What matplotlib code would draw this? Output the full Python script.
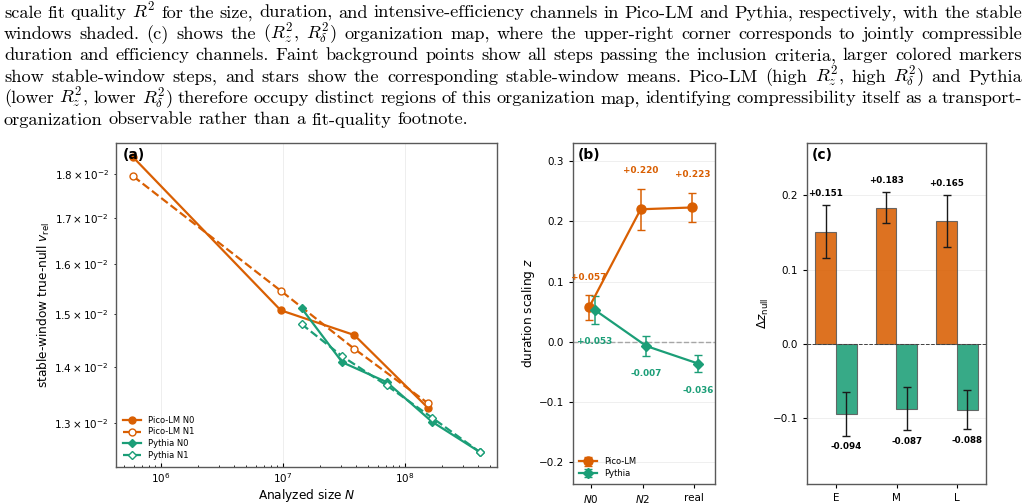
import numpy as np
import matplotlib
matplotlib.use('Agg')
import matplotlib.pyplot as plt

# ---------------- data ----------------
size_pico = [5.93e5, 9.57e6, 3.84e7, 1.535e8]
vrel_pico_n0 = [1.840e-2, 1.507e-2, 1.459e-2, 1.327e-2]
vrel_pico_n1 = [1.795e-2, 1.546e-2, 1.433e-2, 1.335e-2]
size_pythia = [1.42e7, 3.06e7, 7.08e7, 1.66e8, 4.12e8]
vrel_pythia_n0 = [1.511e-2, 1.408e-2, 1.372e-2, 1.303e-2, 1.252e-2]
vrel_pythia_n1 = [1.480e-2, 1.419e-2, 1.366e-2, 1.310e-2, 1.252e-2]

null_cats = ['$N0$', '$N2$', 'real']
z_pico = [0.057, 0.220, 0.223]
z_pico_err = [0.020, 0.034, 0.024]
z_pythia = [0.053, -0.007, -0.036]
z_pythia_err = [0.023, 0.016, 0.014]

regimes = ['E', 'M', 'L']
dz_pico = [0.151, 0.183, 0.165]
dz_pico_err = [0.036, 0.021, 0.035]
dz_pythia = [-0.094, -0.087, -0.088]
dz_pythia_err = [0.029, 0.029, 0.026]

caption_lines = [
    r"scale fit quality $R^2$ for the size, duration, and intensive-efficiency channels in Pico-LM and Pythia, respectively, with the stable",
    r"windows shaded. (c) shows the ($R^2_z$, $R^2_\delta$) organization map, where the upper-right corner corresponds to jointly compressible",
    r"duration and efficiency channels. Faint background points show all steps passing the inclusion criteria, larger colored markers",
    r"show stable-window steps, and stars show the corresponding stable-window means. Pico-LM (high $R^2_z$, high $R^2_\delta$) and Pythia",
    r"(lower $R^2_z$, lower $R^2_\delta$) therefore occupy distinct regions of this organization map, identifying compressibility itself as a transport-",
    r"organization observable rather than a fit-quality footnote.",
]

# ---------------- style ----------------
ORANGE = '#d95f02'
GREEN = '#1b9e77'
plt.rcParams['font.family'] = ['DejaVu Sans']
plt.rcParams['mathtext.fontset'] = 'dejavusans'
plt.rcParams['axes.edgecolor'] = '0.35'
plt.rcParams['axes.linewidth'] = 1.0
plt.rcParams['xtick.labelsize'] = 7.5
plt.rcParams['ytick.labelsize'] = 7.5
plt.rcParams['xtick.major.size'] = 3
plt.rcParams['ytick.major.size'] = 3
plt.rcParams['xtick.minor.size'] = 1.8
plt.rcParams['ytick.minor.size'] = 1.8

W, H = 1029, 504
fig = plt.figure(figsize=(W / 100, H / 100), dpi=100)
renderer = fig.canvas.get_renderer()

def ax_rect(l, t, r, b):
    return [l / W, (H - b) / H, (r - l) / W, (b - t) / H]

# ---------------- caption (justified) ----------------
cap_kw = dict(family='cmr10', math_fontfamily='cm')

def measure(s, fs):
    t = fig.text(0, 0, s, fontsize=fs, **cap_kw)
    w = t.get_window_extent(renderer).width
    t.remove()
    return w

PX_PER_PT = 100 / 72
x_left, x_right = 4.0, 1022.0
target = x_right - x_left
fs0 = 12.0
word_lists = [ln.split(' ') for ln in caption_lines]
# fit font size: densest full line fits the text width with tight (0.28 em) spaces
cands = []
for words in word_lists[:-1]:
    k = sum(measure(w_, fs0) for w_ in words) / fs0
    cands.append(target / (k + (len(words) - 1) * 0.28 * PX_PER_PT))
fs = min(cands)

base0, dy = 17.5, 21.4
for i, words in enumerate(word_lists):
    widths = [measure(w_, fs) for w_ in words]
    if i < len(word_lists) - 1:
        gap = (target - sum(widths)) / (len(words) - 1)
    else:
        gap = 0.333 * fs * PX_PER_PT
    x = x_left
    yb = base0 + i * dy
    for w_, wd in zip(words, widths):
        fig.text(x / W, (H - yb) / H, w_, fontsize=fs, va='baseline', ha='left', **cap_kw)
        x += wd + gap

# ---------------- panel (a) ----------------
axa = fig.add_axes(ax_rect(116, 143, 497, 467))
axa.plot(size_pico, vrel_pico_n0, '-o', color=ORANGE, lw=1.6, ms=5, label='Pico-LM N0')
axa.plot(size_pico, vrel_pico_n1, '--o', color=ORANGE, lw=1.6, ms=5, mfc='white', mew=1.0, label='Pico-LM N1')
axa.plot(size_pythia, vrel_pythia_n0, '-D', color=GREEN, lw=1.6, ms=4.5, label='Pythia N0')
axa.plot(size_pythia, vrel_pythia_n1, '--D', color=GREEN, lw=1.6, ms=4.5, mfc='white', mew=1.0, label='Pythia N1')
axa.set_xscale('log')
axa.set_yscale('log')
axa.set_xlim(10 ** 5.631, 10 ** 8.754)
axa.set_ylim(1.228e-2, 1.875e-2)
axa.tick_params(axis='x', which='both', direction='in', pad=3)
axa.grid(True, which='major', color='0.92', lw=0.6)
axa.set_axisbelow(True)
axa.set_xlabel('Analyzed size $N$', fontsize=8.7, labelpad=1.5)
axa.set_ylabel(r'stable-window true-null $v_{\rm rel}$', fontsize=8.7, labelpad=2)
axa.legend(loc='lower left', fontsize=6, frameon=False, handlelength=2.2,
           borderaxespad=0.4, labelspacing=0.35)
axa.text(0.018, 0.985, '(a)', transform=axa.transAxes, fontsize=10, fontweight='bold',
         va='top', ha='left')

# ---------------- panel (b) ----------------
axb = fig.add_axes(ax_rect(573, 143, 715, 484))
xb = np.arange(len(null_cats))
off_p, off_y = -0.04, 0.07
axb.axhline(0, color='0.65', ls='--', lw=1.0, zorder=1)
axb.errorbar(xb + off_p, z_pico, yerr=z_pico_err, fmt='-o', color=ORANGE, lw=1.6, ms=6.5,
             capsize=3, elinewidth=1.1, ecolor=ORANGE, label='Pico-LM', zorder=3)
axb.errorbar(xb + off_y, z_pythia, yerr=z_pythia_err, fmt='-D', color=GREEN, lw=1.6, ms=5.5,
             capsize=3, elinewidth=1.1, ecolor=GREEN, label='Pythia', zorder=3)
for xi, v, e in zip(xb + off_p, z_pico, z_pico_err):
    axb.text(xi, v + e + 0.03, f'{v:+.3f}', color=ORANGE, fontsize=6.4, fontweight='bold',
             ha='center', va='center')
for xi, v, e in zip(xb + off_y, z_pythia, z_pythia_err):
    axb.text(xi, v - e - 0.03, f'{v:+.3f}', color=GREEN, fontsize=6.4, fontweight='bold',
             ha='center', va='center')
axb.set_xticks(xb)
axb.set_xticklabels(null_cats)
axb.set_xlim(-0.35, 2.4)
axb.set_ylim(-0.236, 0.33)
axb.set_yticks([-0.2, -0.1, 0.0, 0.1, 0.2, 0.3])
axb.grid(True, axis='y', color='0.93', lw=0.6)
axb.set_axisbelow(True)
axb.set_ylabel('duration scaling $z$', fontsize=8.7, labelpad=1)
axb.legend(loc='lower left', fontsize=6, frameon=False, handlelength=2.2,
           borderaxespad=0.3, labelspacing=0.35)
axb.text(0.03, 0.985, '(b)', transform=axb.transAxes, fontsize=10, fontweight='bold',
         va='top', ha='left')

# ---------------- panel (c) ----------------
axc = fig.add_axes(ax_rect(807, 143, 986, 484))
xc = np.arange(len(regimes))
bw = 0.345
axc.bar(xc - bw / 2, dz_pico, bw, color=ORANGE, alpha=0.88, edgecolor='0.35', lw=0.8, zorder=2)
axc.bar(xc + bw / 2, dz_pythia, bw, color=GREEN, alpha=0.88, edgecolor='0.35', lw=0.8, zorder=2)
axc.errorbar(xc - bw / 2, dz_pico, yerr=dz_pico_err, fmt='none', ecolor='0.1', elinewidth=1.0,
             capsize=3, zorder=3)
axc.errorbar(xc + bw / 2, dz_pythia, yerr=dz_pythia_err, fmt='none', ecolor='0.1', elinewidth=1.0,
             capsize=3, zorder=3)
axc.axhline(0, color='0.25', ls='--', lw=0.7, zorder=4)
for xi, v, e in zip(xc - bw / 2, dz_pico, dz_pico_err):
    axc.text(xi, v + e + 0.015, f'{v:+.3f}', color='black', fontsize=6.3, fontweight='bold',
             ha='center', va='center')
for xi, v, e in zip(xc + bw / 2, dz_pythia, dz_pythia_err):
    axc.text(xi, v - e - 0.015, f'{v:+.3f}', color='black', fontsize=6.3, fontweight='bold',
             ha='center', va='center')
axc.set_xticks(xc)
axc.set_xticklabels(regimes)
axc.set_xlim(-0.48, 2.48)
axc.set_ylim(-0.188, 0.27)
axc.set_yticks([-0.1, 0.0, 0.1, 0.2])
axc.grid(True, axis='y', color='0.93', lw=0.6)
axc.set_axisbelow(True)
axc.set_ylabel(r'$\Delta z_{\rm null}$', fontsize=8.7, labelpad=1)
axc.text(0.025, 0.985, '(c)', transform=axc.transAxes, fontsize=10, fontweight='bold',
         va='top', ha='left')

fig.savefig('out.png', dpi=100)
